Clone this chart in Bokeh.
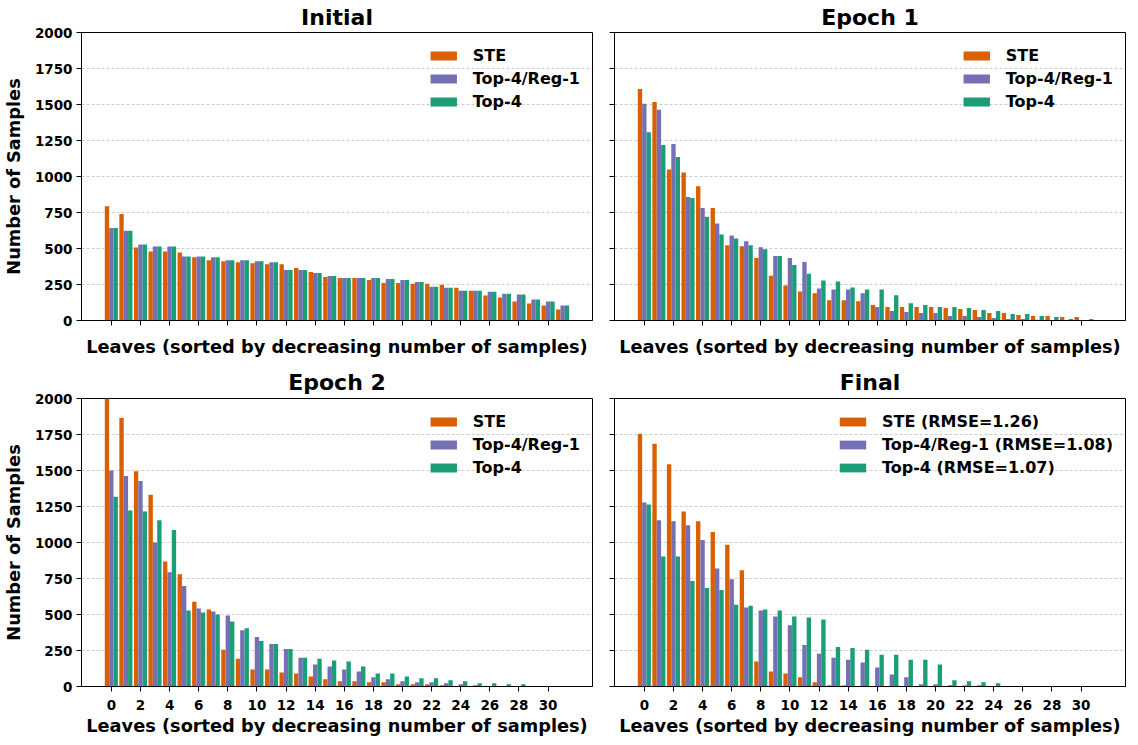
import numpy as np
from bokeh.plotting import figure
from bokeh.models import (Range1d, FixedTicker, Legend, LegendItem, Title,
                          CustomJSTickFormatter, ColumnDataSource)
from bokeh.layouts import column, row
from bokeh.embed import file_html
from bokeh.resources import INLINE

# ---------------- data ----------------
leaves = list(range(32))
x_ticks = list(range(0, 31, 2))
y_ticks = list(range(0, 2001, 250))

series = ["STE", "Top-4/Reg-1", "Top-4"]
colors = ["#d95f02", "#7570b3", "#1b9e77"]

initial_ste = [793, 739, 507, 480, 480, 473, 439, 418, 411, 405, 398, 391, 391, 364, 336, 302,
               295, 295, 282, 261, 261, 255, 255, 248, 227, 207, 173, 159, 132, 118, 105, 77]
initial_reg = [643, 623, 527, 514, 514, 445, 445, 439, 418, 418, 411, 405, 350, 350, 330, 309,
               295, 295, 295, 289, 282, 268, 234, 227, 207, 207, 200, 186, 180, 145, 132, 105]
initial_top4 = [643, 623, 527, 514, 514, 445, 445, 439, 418, 418, 411, 405, 350, 350, 330, 309,
                295, 295, 295, 289, 282, 268, 234, 227, 207, 207, 200, 186, 180, 145, 132, 105]

epoch1_ste = [1607, 1518, 1048, 1027, 932, 782, 523, 516, 434, 311, 243, 202, 189, 141, 141, 134,
              107, 93, 93, 93, 93, 86, 80, 73, 52, 52, 39, 32, 32, 25, 25, 11]
epoch1_reg = [1505, 1464, 1225, 857, 782, 673, 591, 550, 509, 448, 434, 407, 223, 216, 216, 189,
              93, 66, 59, 52, 52, 32, 32, 25, 18, 11, 11, 5, 2, 0, 0, 0]
epoch1_top4 = [1307, 1218, 1136, 850, 720, 598, 570, 523, 495, 448, 386, 325, 277, 270, 230, 216,
               216, 175, 120, 107, 93, 93, 86, 73, 66, 45, 45, 32, 25, 11, 0, 0]

epoch2_ste = [2000, 1864, 1495, 1332, 868, 780, 589, 534, 255, 193, 118, 118, 98, 91, 70, 50,
              36, 36, 30, 30, 16, 16, 16, 9, 0, 0, 0, 0, 0, 0, 0, 0]
epoch2_reg = [1500, 1461, 1427, 1000, 793, 698, 541, 520, 493, 391, 343, 295, 261, 200, 152, 139,
              118, 105, 64, 50, 36, 30, 30, 23, 16, 9, 0, 0, 0, 0, 0, 0]
epoch2_top4 = [1318, 1223, 1216, 1155, 1086, 527, 514, 500, 452, 405, 316, 295, 261, 200, 193, 180,
               173, 139, 91, 91, 70, 57, 57, 43, 36, 23, 23, 16, 16, 0, 0, 0]

final_ste = [1755, 1686, 1543, 1216, 1148, 1073, 984, 807, 173, 105, 91, 64, 30, 9, 9, 0,
             0, 0, 0, 0, 0, 0, 0, 0, 0, 0, 0, 0, 0, 0, 0, 0]
final_reg = [1277, 1155, 1148, 1120, 1018, 820, 745, 548, 527, 486, 425, 289, 227, 200, 186, 166,
             132, 84, 64, 16, 16, 9, 9, 9, 0, 0, 0, 0, 0, 0, 0, 0]
final_top4 = [1264, 902, 902, 732, 684, 670, 568, 561, 534, 527, 486, 480, 466, 275, 268, 255,
              220, 220, 186, 186, 152, 43, 36, 30, 23, 0, 0, 0, 0, 0, 0, 0]

final_labels = ["STE (RMSE=1.26)", "Top-4/Reg-1 (RMSE=1.08)", "Top-4 (RMSE=1.07)"]
x_label = "Leaves (sorted by decreasing number of samples)"
y_label = "Number of Samples"

FONT = "DejaVu Sans"
BAR_W = 0.3
OFFSETS = [-0.3, 0.0, 0.3]
FRAME_W = 511
FRAME_H = 288


def style_axis(ax, show_labels):
    ax.axis_line_color = "black"
    ax.axis_line_width = 1
    ax.major_tick_line_color = "black"
    ax.major_tick_out = 5
    ax.major_tick_in = 0
    ax.minor_tick_out = 0
    ax.minor_tick_in = 0
    ax.minor_tick_line_color = None
    ax.major_label_text_font = FONT
    ax.major_label_text_font_style = "bold"
    ax.major_label_text_font_size = "13.5px"
    ax.major_label_text_color = "black"
    ax.major_label_standoff = 8
    if not show_labels:
        ax.formatter = CustomJSTickFormatter(code="return ''")
        ax.major_label_text_font_size = "0px"
        ax.major_label_standoff = 0


def make_title(text, size, standoff):
    return Title(text=text, align="center", text_font=FONT, text_font_style="bold",
                 text_font_size=size, text_color="black", standoff=standoff)


def make_panel(title, values, labels, left, top):
    bl = 77 if left else 12
    br = 10 if left else 1
    p = figure(frame_width=FRAME_W, frame_height=FRAME_H,
               output_backend="svg", toolbar_location=None,
               x_range=Range1d(-2.05, 33.05), y_range=Range1d(0, 2000),
               min_border_left=bl, min_border_right=br,
               min_border_top=0, min_border_bottom=7 if top else 0)
    if top:
        p.add_layout(make_title(title, "22px", 5), "above")
    else:
        # panel title next to the frame, x label of the panel above farther out
        p.add_layout(make_title(title, "22px", 8), "above")
        p.add_layout(make_title(x_label, "17.75px", 14), "above")
        p.add_layout(make_title(x_label, "17.75px", 3), "below")

    p.outline_line_color = "black"
    p.outline_line_width = 1
    p.background_fill_color = "white"
    p.border_fill_color = "white"

    p.xgrid.visible = False
    p.ygrid.ticker = FixedTicker(ticks=y_ticks)
    p.ygrid.grid_line_color = "#b0b0b0"
    p.ygrid.grid_line_dash = "3 2"
    p.ygrid.grid_line_width = 0.8
    p.ygrid.grid_line_alpha = 0.8

    p.xaxis.ticker = FixedTicker(ticks=x_ticks)
    p.yaxis.ticker = FixedTicker(ticks=y_ticks)
    style_axis(p.xaxis[0], not top)
    style_axis(p.yaxis[0], left)
    p.yaxis.major_label_standoff = 4 if left else 0
    if left:
        p.yaxis.axis_label = y_label
        p.yaxis.axis_label_standoff = 8
        p.yaxis.axis_label_text_font = FONT
        p.yaxis.axis_label_text_font_style = "bold"
        p.yaxis.axis_label_text_font_size = "17.75px"
        p.yaxis.axis_label_text_color = "black"

    items = []
    for vals, off, col, lab in zip(values, OFFSETS, colors, labels):
        src = ColumnDataSource(dict(x=np.array(leaves) + off, top=vals))
        r = p.vbar(x="x", top="top", width=BAR_W, source=src,
                   fill_color=col, line_color=None)
        items.append(LegendItem(label=lab, renderers=[r]))

    legend = Legend(items=items, location="top_right")
    legend.border_line_color = None
    legend.background_fill_alpha = 0
    legend.padding = 0
    legend.margin = 12
    legend.spacing = 1
    legend.glyph_width = 33
    legend.glyph_height = 11
    legend.label_height = 22
    legend.label_standoff = 13
    legend.label_text_font = FONT
    legend.label_text_font_style = "bold"
    legend.label_text_font_size = "16px"
    legend.label_text_color = "black"
    p.add_layout(legend)
    return p


p1 = make_panel("Initial", [initial_ste, initial_reg, initial_top4], series, True, True)
p2 = make_panel("Epoch 1", [epoch1_ste, epoch1_reg, epoch1_top4], series, False, True)
p3 = make_panel("Epoch 2", [epoch2_ste, epoch2_reg, epoch2_top4], series, True, False)
p4 = make_panel("Final", [final_ste, final_reg, final_top4], final_labels, False, False)

layout = column(row(p1, p2), row(p3, p4))

open("out.html", "w").write(file_html(layout, INLINE))
